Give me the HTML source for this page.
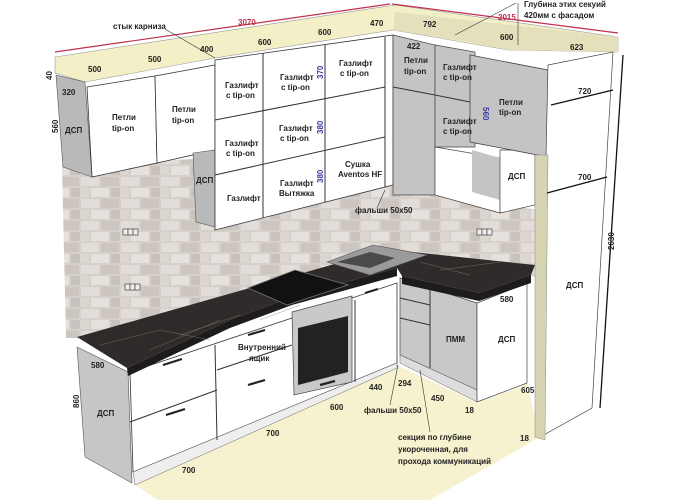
<!DOCTYPE html>
<html><head><meta charset="utf-8"><style>
html,body{margin:0;padding:0;background:#fff;}
svg{display:block;}
text{font-family:"Liberation Sans",sans-serif;font-weight:bold;font-size:8px;fill:#222;}
.b{fill:#3a3aa0;}
.r{fill:#c0304a;}
</style></head><body>
<svg width="700" height="500" viewBox="0 0 700 500">
<defs>
<pattern id="tile" width="40" height="22" patternUnits="userSpaceOnUse">
<rect width="40" height="22" fill="#d6d0ca"/>
<rect x="1" y="1" width="18" height="9" fill="#e2ddd8"/>
<rect x="21" y="1" width="18" height="9" fill="#cdc6c0"/>
<rect x="-9" y="12" width="18" height="9" fill="#dcd6d1"/>
<rect x="11" y="12" width="18" height="9" fill="#e6e1dc"/>
<rect x="31" y="12" width="18" height="9" fill="#c9c2bc"/>
</pattern>
</defs>
<!-- floor -->
<polygon points="135,485 397,365 477,403 527,384 540,437 430,500 158,500" fill="#f6f2cf"/>
<!-- backsplash -->
<polygon points="62,165 393,150 393,250 80,338 66,338" fill="url(#tile)"/>
<polygon points="393,190 540,210 540,278 393,250" fill="url(#tile)"/>
<!-- cream cornice band -->
<polygon points="55,57 395,5 618,37 618,52 508,50 393,30 215,58 85,82 55,73" fill="#f3efc6" stroke="#999" stroke-width="0.6"/>
<polygon points="395,12 618,37 618,52 508,50 470,42 393,30" fill="#e4e0bc"/>
<line x1="55" y1="52" x2="390" y2="4" stroke="#c0304a" stroke-width="1.2"/>
<line x1="392" y1="4" x2="618" y2="33" stroke="#c0304a" stroke-width="1.2"/>
<!-- left upper side panel -->
<polygon points="56,75 85,82 92,177 63,167" fill="#b9b9b9" stroke="#555" stroke-width="0.6"/>
<!-- Петли fronts -->
<polygon points="87,87 155,76 157,163 92,177" fill="#fff" stroke="#333" stroke-width="0.8"/>
<polygon points="155,76 215,65 215,150 157,163" fill="#fff" stroke="#333" stroke-width="0.8"/>
<polygon points="193,153 215,150 215,227 196,222" fill="#b9b9b9" stroke="#555" stroke-width="0.6"/>
<!-- middle upper grid -->
<polygon points="215,60 393,35 393,185 215,230" fill="#fff" stroke="#333" stroke-width="0.8"/>
<line x1="263" y1="53" x2="263" y2="218" stroke="#333"/>
<line x1="325" y1="45" x2="325" y2="202" stroke="#333"/>
<line x1="385" y1="37" x2="385" y2="187" stroke="#333"/>
<line x1="215" y1="120" x2="385" y2="87" stroke="#333"/>
<line x1="215" y1="175" x2="385" y2="137" stroke="#333"/>
<!-- right upper gray -->
<polygon points="393,35 435,45 435,195 393,195" fill="#c4c4c4" stroke="#444" stroke-width="0.7"/>
<line x1="393" y1="87" x2="435" y2="95" stroke="#333"/>
<polygon points="435,45 475,52 475,147 435,147" fill="#c4c4c4" stroke="#444" stroke-width="0.7"/>
<line x1="435" y1="95" x2="475" y2="103" stroke="#333"/>
<polygon points="435,147 500,158 500,213 435,195" fill="#fff" stroke="#444" stroke-width="0.7"/>
<polygon points="472,150 500,158 500,200 472,192" fill="#c4c4c4"/>
<polygon points="500,150 535,150 535,205 500,213" fill="#fff" stroke="#444" stroke-width="0.7"/>
<polygon points="470,55 548,70 548,157 470,142" fill="#c4c4c4" stroke="#444" stroke-width="0.8"/>
<!-- tall unit -->
<polygon points="548,65 613,52 592,408 540,437" fill="#fff" stroke="#444" stroke-width="0.7"/>
<polygon points="535,155 548,155 545,440 535,437" fill="#d6d3b2" stroke="#888" stroke-width="0.5"/>
<line x1="551" y1="105" x2="613" y2="90" stroke="#111" stroke-width="1.2"/>
<line x1="547" y1="193" x2="607" y2="177" stroke="#111" stroke-width="1.2"/>
<line x1="623" y1="55" x2="600" y2="408" stroke="#111" stroke-width="1.3"/>
<!-- left base side -->
<polygon points="77,347 128,372 132,483 85,457" fill="#c6c6c6" stroke="#555" stroke-width="0.6"/>
<!-- left base fronts -->
<polygon points="130,372 397,283 397,363 133,472" fill="#fff" stroke="#333" stroke-width="0.8"/>
<polygon points="133,472 397,363 397,368 135,485" fill="#eee" stroke="#666" stroke-width="0.5"/>
<line x1="215" y1="345" x2="217" y2="440" stroke="#333"/>
<line x1="130" y1="422" x2="217" y2="390" stroke="#333"/>
<line x1="217" y1="370" x2="292" y2="345" stroke="#333"/>
<line x1="355" y1="300" x2="355" y2="382" stroke="#333"/>
<!-- oven -->
<polygon points="292,312 352,296 352,382 294,395" fill="#c9c9c9" stroke="#444" stroke-width="0.7"/>
<polygon points="298,328 348,316 348,372 298,385" fill="#222"/>
<!-- handles -->
<g stroke="#222" stroke-width="2.2">
<line x1="163" y1="365" x2="182" y2="359"/>
<line x1="166" y1="415" x2="185" y2="409"/>
<line x1="248" y1="335" x2="265" y2="330"/>
<line x1="248" y1="385" x2="265" y2="380"/>
<line x1="320" y1="385" x2="335" y2="381"/>
<line x1="365" y1="293" x2="378" y2="289"/>
<line x1="407" y1="285" x2="418" y2="289"/>
<line x1="407" y1="307" x2="418" y2="311"/>
<line x1="407" y1="327" x2="418" y2="331"/>
<line x1="445" y1="295" x2="458" y2="299"/>
</g>
<!-- right base -->
<polygon points="400,278 477,303 477,390 400,355" fill="#c8c8c8" stroke="#444" stroke-width="0.7"/>
<polygon points="400,355 477,390 477,402 400,363" fill="#ddd" stroke="#666" stroke-width="0.5"/>
<line x1="430" y1="288" x2="430" y2="368" stroke="#333"/>
<line x1="400" y1="298" x2="430" y2="305" stroke="#333"/>
<line x1="400" y1="318" x2="430" y2="325" stroke="#333"/>
<polygon points="477,303 527,283 527,383 477,402" fill="#fff" stroke="#444" stroke-width="0.7"/>
<!-- countertop -->
<polygon points="77,337 384,250 393,250 535,265 531,275 479,293 402,276 397,268 292,297 230,320 127,368" fill="#2f2b2b"/>
<polygon points="127,368 230,320 292,297 397,268 397,276 292,305 230,328 128,376" fill="#1e1b1b"/>
<polygon points="479,293 531,275 531,283 479,301" fill="#1e1b1b"/>
<polygon points="402,276 479,293 479,301 402,284" fill="#1e1b1b"/>
<g stroke="#8a8070" stroke-width="0.5" fill="none" opacity="0.8">
<path d="M100,345 L160,330 L210,340 M150,350 L220,320 M260,320 L300,305 M180,335 L240,315 M420,262 L470,275 M440,270 L500,262 M360,268 L390,262"/>
</g>
<polygon points="248,288 295,270 348,285 287,305" fill="#111" stroke="#777" stroke-width="0.8"/>
<polygon points="327,262 373,245 427,255 370,275" fill="#9a9a9a" stroke="#555" stroke-width="0.6"/>
<polygon points="337,262 370,252 395,258 370,268" fill="#4a4a4a"/>
<!-- sockets -->
<g fill="#eee" stroke="#444" stroke-width="0.7">
<rect x="123" y="229" width="5" height="6"/><rect x="128" y="229" width="5" height="6"/><rect x="133" y="229" width="5" height="6"/>
<rect x="125" y="284" width="5" height="6"/><rect x="130" y="284" width="5" height="6"/><rect x="135" y="284" width="5" height="6"/>
<rect x="477" y="229" width="5" height="6"/><rect x="482" y="229" width="5" height="6"/><rect x="487" y="229" width="5" height="6"/>
</g>
<!-- leader lines -->
<g stroke="#333" stroke-width="0.6">
<line x1="165" y1="29" x2="215" y2="58"/>
<line x1="516" y1="3" x2="455" y2="35"/>
<line x1="518" y1="3" x2="518" y2="45"/>
<line x1="385" y1="190" x2="377" y2="208"/>
<line x1="398" y1="365" x2="390" y2="405"/>
<line x1="420" y1="370" x2="430" y2="432"/>
</g>
<!-- labels -->
<text x="113" y="29">стык карниза</text>
<text x="238" y="25" class="r">3070</text>
<text x="88" y="72">500</text>
<text x="148" y="62">500</text>
<text x="200" y="52">400</text>
<text x="258" y="45">600</text>
<text x="318" y="35">600</text>
<text x="370" y="26">470</text>
<text x="423" y="27">792</text>
<text x="498" y="20" class="r">2015</text>
<text x="524" y="7">Глубина этих секуий</text>
<text x="524" y="18">420мм с фасадом</text>
<text x="500" y="40">600</text>
<text x="407" y="49">422</text>
<text x="570" y="50">623</text>
<text x="578" y="94">720</text>
<text x="578" y="180">700</text>
<text transform="translate(614,250) rotate(-90)">2630</text>
<text transform="translate(52,80) rotate(-90)">40</text>
<text transform="translate(58,133) rotate(-90)">560</text>
<text x="62" y="95">320</text>
<text x="65" y="133">ДСП</text>
<text x="112" y="120">Петли</text><text x="112" y="131">tip-on</text>
<text x="172" y="112">Петли</text><text x="172" y="123">tip-on</text>
<text x="225" y="88">Газлифт</text><text x="226" y="98">c tip-on</text>
<text x="280" y="80">Газлифт</text><text x="281" y="90">c tip-on</text>
<text x="339" y="66">Газлифт</text><text x="340" y="76">c tip-on</text>
<text x="225" y="146">Газлифт</text><text x="226" y="156">c tip-on</text>
<text x="279" y="131">Газлифт</text><text x="280" y="141">c tip-on</text>
<text x="227" y="201">Газлифт</text>
<text x="280" y="186">Газлифт</text><text x="279" y="196">Вытяжка</text>
<text x="345" y="167">Сушка</text><text x="338" y="177">Aventos HF</text>
<text x="196" y="183">ДСП</text>
<text transform="translate(323,79) rotate(-90)" class="b">370</text>
<text transform="translate(323,134) rotate(-90)" class="b">380</text>
<text transform="translate(323,183) rotate(-90)" class="b">380</text>
<text transform="translate(483,107) rotate(90)" class="b">560</text>
<text x="355" y="213">фальши 50x50</text>
<text x="404" y="63">Петли</text><text x="404" y="74">tip-on</text>
<text x="443" y="70">Газлифт</text><text x="443" y="80">c tip-on</text>
<text x="443" y="124">Газлифт</text><text x="443" y="134">c tip-on</text>
<text x="499" y="105">Петли</text><text x="499" y="115">tip-on</text>
<text x="508" y="179">ДСП</text>
<text x="566" y="288">ДСП</text>
<text x="238" y="350">Внутренний</text><text x="249" y="361">ящик</text>
<text x="91" y="368">580</text>
<text transform="translate(79,408) rotate(-90)">860</text>
<text x="97" y="416">ДСП</text>
<text x="182" y="473">700</text>
<text x="266" y="436">700</text>
<text x="330" y="410">600</text>
<text x="369" y="390">440</text>
<text x="398" y="386">294</text>
<text x="446" y="342">ПММ</text>
<text x="498" y="342">ДСП</text>
<text x="500" y="302">580</text>
<text x="521" y="393">605</text>
<text x="431" y="401">450</text>
<text x="465" y="413">18</text>
<text x="520" y="441">18</text>
<text x="364" y="413">фальши 50x50</text>
<text x="398" y="440">секция по глубине</text>
<text x="398" y="452">укороченная, для</text>
<text x="398" y="464">прохода коммуникаций</text>
</svg>
</body></html>
